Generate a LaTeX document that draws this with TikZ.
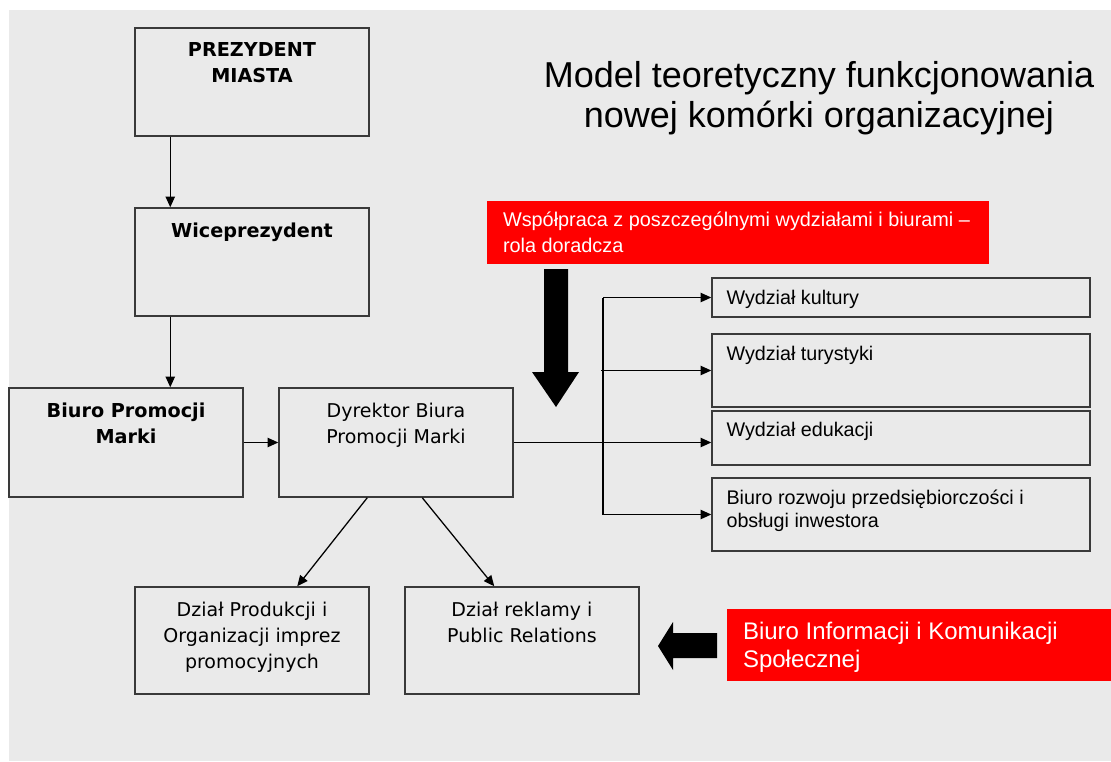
\documentclass[tikz,border=0pt]{standalone}
\usepackage{fontspec}
\setmainfont{Liberation Sans}
\newfontfamily\verd{DejaVu Sans}
\usetikzlibrary{arrows.meta,fit,calc}
\definecolor{bg}{HTML}{EAEAEA}
\definecolor{bord}{HTML}{3A3A3A}
\definecolor{redbox}{HTML}{FF0000}
\tikzset{
  box/.style={draw=bord, line width=1.1pt, inner sep=0pt},
  redb/.style={fill=redbox, inner sep=0pt},
  arr/.style={-{Triangle[length=8pt,width=7pt]}, line width=0.95pt, black},
  ln/.style={line width=0.95pt, black},
  ltxt/.style={font=\verd\fontsize{14.25pt}{19.5pt}\selectfont, align=center, anchor=base, inner sep=0pt},
  btxt/.style={font=\verd\bfseries\fontsize{14.4pt}{19.5pt}\selectfont, align=center, anchor=base, inner sep=0pt},
  rtxt/.style={font=\fontsize{14.8pt}{17.25pt}\selectfont, align=left, anchor=base west, inner sep=0pt},
  wtxt/.style={text=white, align=left, anchor=base west, inner sep=0pt},
  ttxt/.style={font=\fontsize{27pt}{30pt}\selectfont, align=center, anchor=base, inner sep=0pt},
  bigarrow/.style={fill=black},
}
\begin{document}
\begin{tikzpicture}[x=0.75pt, y=-0.75pt]
\fill[white] (0,0) rectangle (1111,761);
\fill[bg] (9,10) rectangle (1111,761);
\useasboundingbox (0,0) rectangle (1111,761);

% boxes
\node[box, fit={(135,28) (369,136)}] (pm) {};
\node[box, fit={(135,208) (369,316)}] (wp) {};
\node[box, fit={(9,388) (243,497)}] (bpm) {};
\node[box, fit={(279,388) (513,497)}] (dbpm) {};
\node[box, fit={(135,587) (369,694)}] (dp) {};
\node[box, fit={(405,587) (639,694)}] (dr) {};
\node[box, fit={(712,278) (1090,317)}] (wk) {};
\node[box, fit={(712,334) (1090,407)}] (wt) {};
\node[box, fit={(712,411) (1090,465)}] (we) {};
\node[box, fit={(712,478) (1090,551)}] (br) {};
\node[redb, fit={(487,201) (989,264)}] (red1) {};
\node[redb, fit={(727,609) (1111,681)}] (red2) {};

% texts (base anchor = baseline of last line)
\node[ttxt] (title) at (819,127) {Model teoretyczny funkcjonowania\\nowej komórki organizacyjnej};
\node[btxt] (tpm) at ($(pm.north)+(0,55)$) {PREZYDENT\\MIASTA};
\node[btxt] (twp) at ($(wp.north)+(0,30)$) {Wiceprezydent};
\node[btxt] (tbpm) at ($(bpm.north)+(0,56)$) {Biuro Promocji\\Marki};
\node[ltxt] (tdbpm) at ($(dbpm.north)+(0,56)$) {Dyrektor Biura\\Promocji Marki};
\node[ltxt] (tdp) at ($(dp.north)+(0,82)$) {Dział Produkcji i\\Organizacji imprez\\promocyjnych};
\node[ltxt] (tdr) at ($(dr.north)+(0,56)$) {Dział reklamy i\\Public Relations};
\node[rtxt] (twk) at ($(wk.north west)+(15,27)$) {Wydział kultury};
\node[rtxt] (twt) at ($(wt.north west)+(15,27)$) {Wydział turystyki};
\node[rtxt] (twe) at ($(we.north west)+(15,26)$) {Wydział edukacji};
\node[rtxt] (tbr) at ($(br.north west)+(15,50)$) {Biuro rozwoju przedsiębiorczości i\\obsługi inwestora};
\node[wtxt, font=\fontsize{14.9pt}{19.5pt}\selectfont] (tred1) at ($(red1.north west)+(16,52)$) {Współpraca z poszczególnymi wydziałami i biurami –\\rola doradcza};
\node[wtxt, font=\fontsize{18pt}{21pt}\selectfont] (tred2) at ($(red2.north west)+(16,59)$) {Biuro Informacji i Komunikacji\\Społecznej};

% connectors
\draw[arr] ([xshift=27pt]pm.south west) -- ([xshift=27pt]wp.north west);
\draw[arr] ([xshift=27pt]wp.south west) -- ([xshift=27pt]wp.south west |- bpm.north);
\draw[arr] (bpm.east) -- (dbpm.west);
\draw[arr] ([xshift=66.75pt]dbpm.south west) -- ([xshift=122.25pt]dp.north west);
\draw[arr] ([xshift=108pt]dbpm.south west) -- ([xshift=67.5pt]dr.north west);
\coordinate (tx) at (603,0);
\draw[arr] (dbpm.east) -- (dbpm.east -| we.west);
\draw[ln] (wk.west -| tx) -- (br.west -| tx);
\draw[arr] (wk.west -| tx) -- (wk.west);
\draw[arr] ([xshift=-1.5pt]wt.west -| tx) -- (wt.west);
\draw[arr] (br.west -| tx) -- (br.west);

% big block arrows
\fill[bigarrow] (544,269) -- (568,269) -- (568,372) -- (579,372) -- (556,407) -- (532,372) -- (544,372) -- cycle;
\fill[bigarrow] (717,633) -- (717,658) -- (673,658) -- (673,670) -- (658,646) -- (673,622) -- (673,633) -- cycle;
\end{tikzpicture}
\end{document}
